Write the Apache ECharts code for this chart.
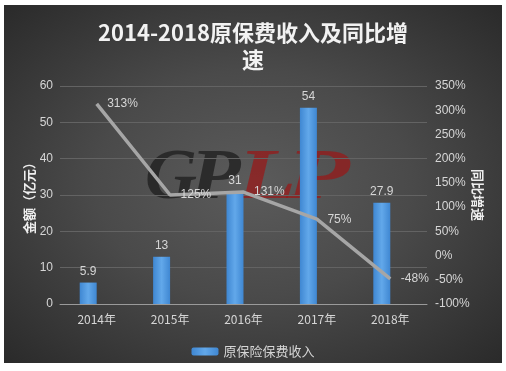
<!DOCTYPE html>
<html>
<head>
<meta charset="utf-8">
<script src="https://cdn.jsdelivr.net/npm/echarts@6/dist/echarts.min.js"></script>
<style>
html,body{margin:0;padding:0;background:#fff;width:506px;height:371px;overflow:hidden;}
#wrap{position:absolute;left:4px;top:5px;width:498px;height:358px;
background:radial-gradient(ellipse at 50% 50%, #5b5b5b 0%, #4a4a4a 45%, #2a2a2a 100%);}
#chart{width:498px;height:358px;}
</style>
</head>
<body>
<div id="wrap"><div id="chart"></div></div>
<script>
var categories = ['2014年', '2015年', '2016年', '2017年', '2018年'];
var premium = [5.9, 13, 31, 54, 27.9];
var growth = [313, 125, 131, 75, -48];
var leftTicks = {min: 0, max: 60, interval: 10};
var rightTicks = {min: -100, max: 350, interval: 50};

var chart = echarts.init(document.getElementById('chart'));
var labelColor = '#d6d6d6';
var wmFont = 'italic bold 72px "Liberation Serif"';
function wm(ch, x, sx, fill) {
  return {type: 'text', z: -10, x: x, y: 138, scaleX: sx,
    style: {text: ch, font: wmFont, fill: fill, verticalAlign: 'top', align: 'left'}};
}
var option = {
  backgroundColor: 'transparent',
  animation: false,
  title: {
    text: '2014-2018原保费收入及同比增\n速',
    left: 'center',
    top: 9,
    textStyle: {
      color: '#f2f2f2',
      fontSize: 22,
      lineHeight: 27,
      fontWeight: 'bold',
      fontFamily: '"Noto Sans CJK SC", sans-serif'
    }
  },
  legend: {
    data: ['原保险保费收入'],
    left: 'center',
    top: 335,
    itemWidth: 27,
    itemHeight: 8,
    itemGap: 5,
    textStyle: {color: labelColor, fontSize: 13, fontFamily: '"Noto Sans CJK SC", sans-serif'}
  },
  graphic: [
    wm('G', 141, 1.0, 'rgba(25,25,25,0.7)'),
    wm('P', 186, 1.15, 'rgba(25,25,25,0.7)'),
    wm('L', 233, 1.35, 'rgba(155,22,22,0.7)'),
    wm('P', 282, 1.45, 'rgba(155,22,22,0.7)')
  ],
  grid: {left: 56, top: 81, width: 367, height: 218, containLabel: false},
  xAxis: {
    type: 'category',
    data: categories,
    axisTick: {show: false},
    axisLine: {lineStyle: {color: '#9a9a9a', width: 1}},
    axisLabel: {color: labelColor, fontSize: 12, margin: 9, fontFamily: '"Noto Sans CJK SC", sans-serif'}
  },
  yAxis: [
    {
      type: 'value',
      min: leftTicks.min, max: leftTicks.max, interval: leftTicks.interval,
      name: '金额（亿元）',
      nameLocation: 'middle',
      nameGap: 24,
      nameMoveOverlap: false,
      nameRotate: 90,
      nameTextStyle: {color: '#eeeeee', fontSize: 13, fontWeight: 'bold', fontFamily: '"Noto Sans CJK SC", sans-serif'},
      axisLine: {show: false},
      axisTick: {show: false},
      axisLabel: {color: labelColor, fontSize: 12, margin: 7},
      splitLine: {lineStyle: {color: '#636363', width: 1}}
    },
    {
      type: 'value',
      min: rightTicks.min, max: rightTicks.max, interval: rightTicks.interval,
      name: '同比增速',
      nameLocation: 'middle',
      nameGap: 44,
      nameMoveOverlap: false,
      nameRotate: -90,
      nameTextStyle: {color: '#eeeeee', fontSize: 13, fontWeight: 'bold', fontFamily: '"Noto Sans CJK SC", sans-serif'},
      axisLine: {show: false},
      axisTick: {show: false},
      axisLabel: {color: labelColor, fontSize: 12, margin: 8, formatter: '{value}%'},
      splitLine: {show: false}
    }
  ],
  series: [
    {
      name: '原保险保费收入',
      type: 'bar',
      yAxisIndex: 0,
      data: premium,
      barWidth: 17,
      barGap: '0%',
      itemStyle: {
        color: new echarts.graphic.LinearGradient(0, 0, 1, 0, [
          {offset: 0, color: '#3f87d2'},
          {offset: 0.5, color: '#62a8ea'},
          {offset: 1, color: '#3f87d2'}
        ])
      },
      label: {show: true, position: 'top', distance: 5, color: labelColor, fontSize: 12}
    },
    {
      name: 'spacer',
      type: 'bar',
      yAxisIndex: 0,
      data: ['-', '-', '-', '-', '-'],
      barWidth: 17,
      barGap: '0%',
      silent: true
    },
    {
      name: '同比增速',
      type: 'line',
      yAxisIndex: 1,
      data: growth,
      symbol: 'circle',
      symbolSize: 1,
      showSymbol: true,
      itemStyle: {color: 'rgba(0,0,0,0)'},
      lineStyle: {color: '#a6a6a6', width: 3.5},
      label: {show: true, position: 'right', distance: 10, color: labelColor, fontSize: 12, formatter: '{c}%'}
    }
  ]
};
chart.setOption(option);
</script>
</body>
</html>
